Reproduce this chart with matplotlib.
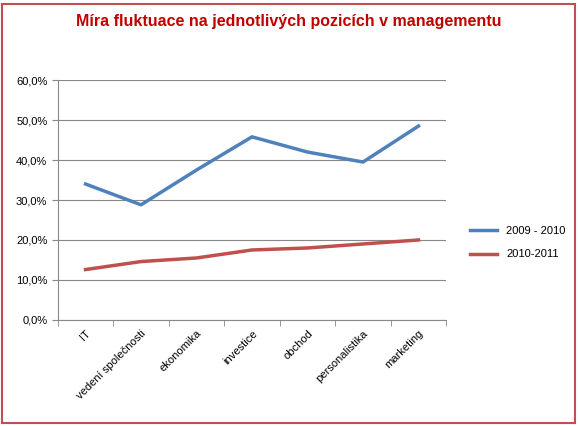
import matplotlib
matplotlib.use("Agg")
import matplotlib.pyplot as plt
from matplotlib.patches import Rectangle
from matplotlib.ticker import FuncFormatter

categories = ["IT", "vedení společnosti", "ekonomika", "investice", "obchod", "personalistika", "marketing"]
s1 = [34.0, 28.8, 37.5, 45.8, 42.0, 39.5, 48.5]
s2 = [12.6, 14.6, 15.5, 17.5, 18.0, 19.0, 20.0]
names = ["2009 - 2010", "2010-2011"]

plt.rcParams['font.family'] = ['Liberation Sans', 'DejaVu Sans']
fig = plt.figure(figsize=(5.78, 4.26), dpi=100)
fig.patches.append(Rectangle((0.004, 0.006), 0.99, 0.985, transform=fig.transFigure,
                             fill=False, edgecolor="#C0504D", linewidth=1.5))
ax = fig.add_axes([0.1, 0.249, 0.672, 0.563])
x = range(len(categories))
ax.plot(x, s1, color="#4F81BD", lw=2.5, label=names[0])
ax.plot(x, s2, color="#C0504D", lw=2.5, label=names[1])
ax.set_ylim(0, 60)
ax.set_yticks(range(0, 61, 10))
ax.yaxis.set_major_formatter(FuncFormatter(lambda v, p: f"{v:.1f}%".replace(".", ",")))
ax.set_xlim(-0.5, 6.5)
ax.set_xticks(list(x))
ax.set_xticklabels(categories, rotation=45, ha="right", rotation_mode="anchor", fontsize=8)
ax.set_xticks([i - 0.5 for i in range(8)], minor=True)
ax.tick_params(axis="x", which="major", length=0, pad=6)
ax.tick_params(axis="x", which="minor", length=4, color="#888888")
ax.tick_params(axis="y", labelsize=8, length=4, color="#888888")
ax.grid(axis="y", color="#888888", lw=0.8)
ax.set_axisbelow(True)
for s in ["top", "right"]:
    ax.spines[s].set_visible(False)
ax.spines["left"].set_color("#888888")
ax.spines["bottom"].set_color("#888888")
fig.text(0.5, 0.95, "Míra fluktuace na jednotlivých pozicích v managementu", ha="center",
         va="center", color="#C00000", fontsize=11.5, fontweight="bold")
fig.legend(loc="center left", bbox_to_anchor=(0.795, 0.43), frameon=False, fontsize=8,
           handlelength=2.5, labelspacing=1.2)
fig.savefig("out.png", dpi=100)
